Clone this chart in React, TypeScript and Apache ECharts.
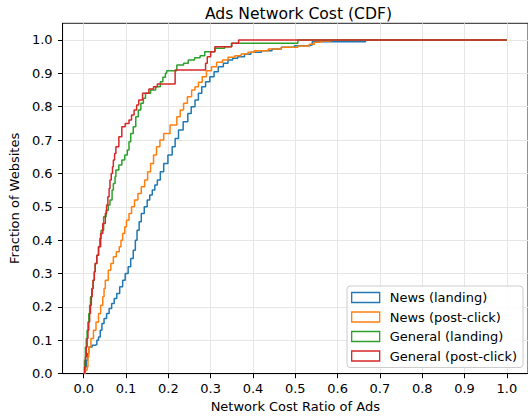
import React, { useEffect, useRef } from "react";
import * as echarts from "echarts";

const seriesNames = ["News (landing)", "News (post-click)", "General (landing)", "General (post-click)"];
const seriesColors = ["#1f77b4", "#ff7f0e", "#2ca02c", "#d62728"];

const xTicks = [0, 0.1, 0.2, 0.3, 0.4, 0.5, 0.6, 0.7, 0.8, 0.9, 1.0];
const yTicks = [0, 0.1, 0.2, 0.3, 0.4, 0.5, 0.6, 0.7, 0.8, 0.9, 1.0];

const newsLanding: [number, number][] = [
  [0, 0], [0.003, 0.02], [0.006, 0.04], [0.009, 0.06], [0.012, 0.08], [0.02, 0.085], [0.027, 0.087],
  [0.031, 0.1], [0.035, 0.11], [0.039, 0.13], [0.043, 0.15], [0.048, 0.165], [0.054, 0.18],
  [0.06, 0.195], [0.066, 0.21], [0.072, 0.225], [0.078, 0.24], [0.085, 0.26], [0.092, 0.28],
  [0.098, 0.3], [0.105, 0.32], [0.111, 0.345], [0.117, 0.37], [0.122, 0.4], [0.126, 0.43],
  [0.131, 0.455], [0.136, 0.48], [0.143, 0.5], [0.15, 0.52], [0.156, 0.535], [0.162, 0.55],
  [0.168, 0.565], [0.174, 0.58], [0.181, 0.605], [0.189, 0.63], [0.199, 0.655], [0.209, 0.68],
  [0.216, 0.705], [0.224, 0.73], [0.235, 0.755], [0.246, 0.78], [0.254, 0.8], [0.263, 0.82],
  [0.271, 0.84], [0.279, 0.86], [0.288, 0.875], [0.298, 0.89], [0.308, 0.905], [0.318, 0.92],
  [0.33, 0.93], [0.341, 0.94], [0.352, 0.945], [0.364, 0.95], [0.38, 0.957], [0.395, 0.963],
  [0.42, 0.968], [0.445, 0.973], [0.467, 0.978], [0.498, 0.983], [0.533, 0.985], [0.54, 0.995],
  [0.666, 1.0], [1.0, 1.0],
];

const newsPostClick: [number, number][] = [
  [0, 0], [0.004, 0.01], [0.008, 0.02], [0.01, 0.05], [0.012, 0.08], [0.017, 0.105], [0.023, 0.13],
  [0.029, 0.155], [0.035, 0.18], [0.04, 0.205], [0.045, 0.23], [0.048, 0.255], [0.051, 0.28],
  [0.058, 0.31], [0.064, 0.33], [0.07, 0.35], [0.077, 0.365], [0.084, 0.38], [0.088, 0.4],
  [0.092, 0.42], [0.097, 0.44], [0.101, 0.46], [0.107, 0.48], [0.113, 0.5], [0.12, 0.52],
  [0.128, 0.54], [0.136, 0.56], [0.144, 0.58], [0.151, 0.605], [0.158, 0.63], [0.165, 0.655],
  [0.172, 0.68], [0.18, 0.7], [0.189, 0.72], [0.204, 0.745], [0.22, 0.77], [0.228, 0.79],
  [0.236, 0.81], [0.245, 0.83], [0.255, 0.85], [0.263, 0.86], [0.271, 0.873], [0.28, 0.89],
  [0.29, 0.908], [0.302, 0.92], [0.314, 0.933], [0.328, 0.94], [0.341, 0.948], [0.357, 0.953],
  [0.372, 0.958], [0.388, 0.963], [0.403, 0.968], [0.436, 0.973], [0.467, 0.978], [0.506, 0.982],
  [0.533, 0.987], [0.545, 0.993], [0.56, 0.997], [0.584, 1.0], [1.0, 1.0],
];

const generalLanding: [number, number][] = [
  [0, 0], [0.002, 0.04], [0.004, 0.08], [0.006, 0.105], [0.008, 0.13], [0.01, 0.155], [0.012, 0.18],
  [0.014, 0.205], [0.016, 0.23], [0.019, 0.255], [0.022, 0.28], [0.025, 0.305], [0.027, 0.33],
  [0.031, 0.355], [0.035, 0.38], [0.038, 0.405], [0.041, 0.43], [0.047, 0.47], [0.053, 0.49],
  [0.058, 0.505], [0.062, 0.52], [0.067, 0.55], [0.07, 0.57], [0.074, 0.59], [0.076, 0.61],
  [0.083, 0.625], [0.09, 0.64], [0.097, 0.655], [0.103, 0.67], [0.107, 0.695], [0.111, 0.72],
  [0.117, 0.74], [0.123, 0.77], [0.129, 0.79], [0.135, 0.81], [0.141, 0.825], [0.146, 0.84],
  [0.158, 0.85], [0.17, 0.86], [0.181, 0.875], [0.187, 0.888], [0.193, 0.9], [0.196, 0.908],
  [0.22, 0.925], [0.236, 0.93], [0.247, 0.94], [0.262, 0.947], [0.275, 0.953], [0.286, 0.965],
  [0.31, 0.975], [0.333, 0.98], [0.349, 0.99], [0.506, 1.0], [1.0, 1.0],
];

const generalPostClick: [number, number][] = [
  [0, 0], [0.002, 0.02], [0.004, 0.05], [0.006, 0.08], [0.008, 0.105], [0.01, 0.13], [0.012, 0.155],
  [0.014, 0.18], [0.016, 0.205], [0.018, 0.23], [0.02, 0.255], [0.022, 0.28], [0.025, 0.305],
  [0.027, 0.33], [0.031, 0.355], [0.035, 0.38], [0.04, 0.42], [0.045, 0.45], [0.051, 0.48],
  [0.054, 0.505], [0.057, 0.53], [0.06, 0.555], [0.062, 0.58], [0.065, 0.6], [0.068, 0.62],
  [0.07, 0.64], [0.073, 0.66], [0.076, 0.68], [0.083, 0.71], [0.09, 0.74], [0.098, 0.75],
  [0.107, 0.76], [0.113, 0.775], [0.119, 0.79], [0.125, 0.805], [0.13, 0.82], [0.139, 0.84],
  [0.154, 0.853], [0.165, 0.86], [0.174, 0.868], [0.216, 0.91], [0.288, 0.93], [0.292, 0.95],
  [0.3, 0.965], [0.31, 0.98], [0.35, 0.99], [0.366, 1.0], [1.0, 1.0],
];

const seriesData = [newsLanding, newsPostClick, generalLanding, generalPostClick];

const FONT = "DejaVu Sans";
const FS = 13;

export default function App() {
  const ref = useRef<HTMLDivElement>(null);
  useEffect(() => {
    if (!ref.current) return;
    const chart = echarts.init(ref.current, null, { renderer: "svg" });
    chart.setOption({
      animation: false,
      backgroundColor: "#fff",
      textStyle: { fontFamily: FONT },
      title: {
        text: "Ads Network Cost (CDF)",
        left: 293.5,
        top: 1,
        textAlign: "center",
        textStyle: { fontFamily: FONT, fontSize: 15.6, fontWeight: "normal", color: "#000" },
      },
      grid: {
        left: 58.6,
        right: -1.4,
        top: 23.3,
        bottom: 44,
        show: true,
        borderColor: "#222",
        borderWidth: 1,
        backgroundColor: "transparent",
      },
      legend: {
        orient: "vertical",
        right: 5,
        top: 286,
        padding: [4, 6, 4, 4],
        itemWidth: 28,
        itemHeight: 10,
        itemGap: 4.5,
        backgroundColor: "rgba(255,255,255,0.85)",
        borderColor: "#cccccc",
        borderWidth: 1,
        borderRadius: 3,
        textStyle: { fontFamily: FONT, fontSize: FS, color: "#000", lineHeight: 15, padding: [0, 0, 0, 5] },
        data: seriesNames.map((n, i) => ({
          name: n,
          icon: "rect",
          itemStyle: { color: "#fff", borderColor: seriesColors[i], borderWidth: 1.3 },
        })),
      },
      xAxis: {
        type: "value",
        min: -0.05,
        max: 1.05,
        name: "Network Cost Ratio of Ads",
        nameLocation: "middle",
        nameGap: 25,
        nameTextStyle: { fontFamily: FONT, fontSize: FS, color: "#000" },
        axisLine: { show: true, onZero: false, lineStyle: { color: "#000", width: 1 } },
        axisTick: { show: true, length: 4.6, lineStyle: { color: "#000" }, customValues: xTicks },
        axisLabel: {
          customValues: xTicks,
          margin: 8.5,
          fontFamily: FONT,
          fontSize: FS,
          color: "#000",
          formatter: (v: number) => v.toFixed(1),
        },
        splitLine: { show: true, lineStyle: { color: "#e6e6e6", width: 1 } },
      },
      yAxis: {
        type: "value",
        min: 0,
        max: 1.05,
        name: "Fraction of Websites",
        nameLocation: "middle",
        nameGap: 33,
        nameTextStyle: { fontFamily: FONT, fontSize: FS, color: "#000" },
        axisLine: { show: true, onZero: false, lineStyle: { color: "#000", width: 1 } },
        axisTick: { show: true, length: 4.6, lineStyle: { color: "#000" }, customValues: yTicks },
        axisLabel: {
          customValues: yTicks,
          margin: 10,
          fontFamily: FONT,
          fontSize: FS,
          color: "#000",
          formatter: (v: number) => v.toFixed(1),
        },
        splitLine: { show: true, lineStyle: { color: "#e6e6e6", width: 1 } },
      },
      series: seriesNames.map((n, i) => ({
        name: n,
        type: "line",
        step: "end",
        data: seriesData[i],
        showSymbol: false,
        symbol: "none",
        color: seriesColors[i],
        lineStyle: { color: seriesColors[i], width: 1.5 },
        z: 2 + i,
        clip: true,
      })),
    });
    return () => chart.dispose();
  }, []);
  return (
    <div
      ref={ref}
      style={{ position: "fixed", left: 0, top: 0, width: 528, height: 418, background: "#fff" }}
    />
  );
}
